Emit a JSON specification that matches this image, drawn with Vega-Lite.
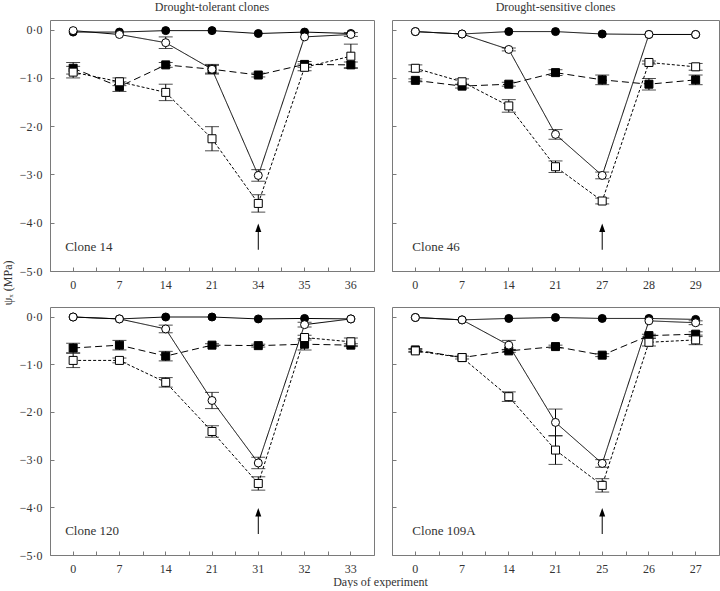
{
  "$schema": "https://vega.github.io/schema/vega-lite/v6.json",
  "padding": {"left": 0, "top": 0, "right": 0, "bottom": 0},
  "datasets": {
    "obs": [
      {"clone":"14","day":0,"series":"ctrl_sq","value":-0.80,"err":0.12},
      {"clone":"14","day":7,"series":"ctrl_sq","value":-1.18,"err":0.10},
      {"clone":"14","day":14,"series":"ctrl_sq","value":-0.73,"err":0.05},
      {"clone":"14","day":21,"series":"ctrl_sq","value":-0.82,"err":0.10},
      {"clone":"14","day":34,"series":"ctrl_sq","value":-0.94,"err":0.04},
      {"clone":"14","day":35,"series":"ctrl_sq","value":-0.72,"err":0.06},
      {"clone":"14","day":36,"series":"ctrl_sq","value":-0.73,"err":0.06},
      {"clone":"14","day":0,"series":"stress_sq","value":-0.88,"err":0.12},
      {"clone":"14","day":7,"series":"stress_sq","value":-1.08,"err":0.08},
      {"clone":"14","day":14,"series":"stress_sq","value":-1.30,"err":0.17},
      {"clone":"14","day":21,"series":"stress_sq","value":-2.26,"err":0.25},
      {"clone":"14","day":34,"series":"stress_sq","value":-3.60,"err":0.18},
      {"clone":"14","day":35,"series":"stress_sq","value":-0.78,"err":0.07},
      {"clone":"14","day":36,"series":"stress_sq","value":-0.55,"err":0.25},
      {"clone":"14","day":0,"series":"ctrl_ci","value":-0.05,"err":0},
      {"clone":"14","day":7,"series":"ctrl_ci","value":-0.05,"err":0},
      {"clone":"14","day":14,"series":"ctrl_ci","value":-0.02,"err":0},
      {"clone":"14","day":21,"series":"ctrl_ci","value":-0.02,"err":0},
      {"clone":"14","day":34,"series":"ctrl_ci","value":-0.08,"err":0},
      {"clone":"14","day":35,"series":"ctrl_ci","value":-0.05,"err":0},
      {"clone":"14","day":36,"series":"ctrl_ci","value":-0.08,"err":0},
      {"clone":"14","day":0,"series":"stress_ci","value":-0.02,"err":0},
      {"clone":"14","day":7,"series":"stress_ci","value":-0.10,"err":0},
      {"clone":"14","day":14,"series":"stress_ci","value":-0.27,"err":0.12},
      {"clone":"14","day":21,"series":"stress_ci","value":-0.82,"err":0.08},
      {"clone":"14","day":34,"series":"stress_ci","value":-3.02,"err":0.12},
      {"clone":"14","day":35,"series":"stress_ci","value":-0.15,"err":0},
      {"clone":"14","day":36,"series":"stress_ci","value":-0.10,"err":0.04},

      {"clone":"46","day":0,"series":"ctrl_sq","value":-1.05,"err":0.03},
      {"clone":"46","day":7,"series":"ctrl_sq","value":-1.17,"err":0.04},
      {"clone":"46","day":14,"series":"ctrl_sq","value":-1.13,"err":0.04},
      {"clone":"46","day":21,"series":"ctrl_sq","value":-0.89,"err":0.06},
      {"clone":"46","day":27,"series":"ctrl_sq","value":-1.04,"err":0.10},
      {"clone":"46","day":28,"series":"ctrl_sq","value":-1.13,"err":0.12},
      {"clone":"46","day":29,"series":"ctrl_sq","value":-1.04,"err":0.10},
      {"clone":"46","day":0,"series":"stress_sq","value":-0.80,"err":0.07},
      {"clone":"46","day":7,"series":"stress_sq","value":-1.08,"err":0.06},
      {"clone":"46","day":14,"series":"stress_sq","value":-1.58,"err":0.13},
      {"clone":"46","day":21,"series":"stress_sq","value":-2.84,"err":0.12},
      {"clone":"46","day":27,"series":"stress_sq","value":-3.55,"err":0.06},
      {"clone":"46","day":28,"series":"stress_sq","value":-0.68,"err":0.03},
      {"clone":"46","day":29,"series":"stress_sq","value":-0.77,"err":0.07},
      {"clone":"46","day":0,"series":"ctrl_ci","value":-0.04,"err":0},
      {"clone":"46","day":7,"series":"ctrl_ci","value":-0.09,"err":0},
      {"clone":"46","day":14,"series":"ctrl_ci","value":-0.04,"err":0},
      {"clone":"46","day":21,"series":"ctrl_ci","value":-0.04,"err":0},
      {"clone":"46","day":27,"series":"ctrl_ci","value":-0.09,"err":0},
      {"clone":"46","day":28,"series":"ctrl_ci","value":-0.10,"err":0},
      {"clone":"46","day":29,"series":"ctrl_ci","value":-0.10,"err":0},
      {"clone":"46","day":0,"series":"stress_ci","value":-0.04,"err":0},
      {"clone":"46","day":7,"series":"stress_ci","value":-0.09,"err":0},
      {"clone":"46","day":14,"series":"stress_ci","value":-0.41,"err":0.03},
      {"clone":"46","day":21,"series":"stress_ci","value":-2.17,"err":0.10},
      {"clone":"46","day":27,"series":"stress_ci","value":-3.02,"err":0.07},
      {"clone":"46","day":28,"series":"stress_ci","value":-0.10,"err":0},
      {"clone":"46","day":29,"series":"stress_ci","value":-0.10,"err":0},

      {"clone":"120","day":0,"series":"ctrl_sq","value":-0.66,"err":0.10},
      {"clone":"120","day":7,"series":"ctrl_sq","value":-0.60,"err":0.10},
      {"clone":"120","day":14,"series":"ctrl_sq","value":-0.83,"err":0.10},
      {"clone":"120","day":21,"series":"ctrl_sq","value":-0.60,"err":0.03},
      {"clone":"120","day":31,"series":"ctrl_sq","value":-0.61,"err":0.03},
      {"clone":"120","day":32,"series":"ctrl_sq","value":-0.58,"err":0.12},
      {"clone":"120","day":33,"series":"ctrl_sq","value":-0.60,"err":0.03},
      {"clone":"120","day":0,"series":"stress_sq","value":-0.92,"err":0.15},
      {"clone":"120","day":7,"series":"stress_sq","value":-0.92,"err":0.05},
      {"clone":"120","day":14,"series":"stress_sq","value":-1.38,"err":0.10},
      {"clone":"120","day":21,"series":"stress_sq","value":-2.41,"err":0.12},
      {"clone":"120","day":31,"series":"stress_sq","value":-3.50,"err":0.14},
      {"clone":"120","day":32,"series":"stress_sq","value":-0.44,"err":0.05},
      {"clone":"120","day":33,"series":"stress_sq","value":-0.53,"err":0.08},
      {"clone":"120","day":0,"series":"ctrl_ci","value":-0.01,"err":0},
      {"clone":"120","day":7,"series":"ctrl_ci","value":-0.05,"err":0},
      {"clone":"120","day":14,"series":"ctrl_ci","value":-0.01,"err":0},
      {"clone":"120","day":21,"series":"ctrl_ci","value":-0.01,"err":0},
      {"clone":"120","day":31,"series":"ctrl_ci","value":-0.05,"err":0},
      {"clone":"120","day":32,"series":"ctrl_ci","value":-0.04,"err":0},
      {"clone":"120","day":33,"series":"ctrl_ci","value":-0.05,"err":0},
      {"clone":"120","day":0,"series":"stress_ci","value":-0.01,"err":0},
      {"clone":"120","day":7,"series":"stress_ci","value":-0.05,"err":0},
      {"clone":"120","day":14,"series":"stress_ci","value":-0.26,"err":0.08},
      {"clone":"120","day":21,"series":"stress_ci","value":-1.76,"err":0.17},
      {"clone":"120","day":31,"series":"stress_ci","value":-3.07,"err":0.12},
      {"clone":"120","day":32,"series":"stress_ci","value":-0.17,"err":0.05},
      {"clone":"120","day":33,"series":"stress_ci","value":-0.05,"err":0},

      {"clone":"109A","day":0,"series":"ctrl_sq","value":-0.70,"err":0.03},
      {"clone":"109A","day":7,"series":"ctrl_sq","value":-0.86,"err":0},
      {"clone":"109A","day":14,"series":"ctrl_sq","value":-0.72,"err":0.03},
      {"clone":"109A","day":21,"series":"ctrl_sq","value":-0.63,"err":0.03},
      {"clone":"109A","day":25,"series":"ctrl_sq","value":-0.81,"err":0.03},
      {"clone":"109A","day":26,"series":"ctrl_sq","value":-0.40,"err":0.03},
      {"clone":"109A","day":27,"series":"ctrl_sq","value":-0.37,"err":0.05},
      {"clone":"109A","day":0,"series":"stress_sq","value":-0.72,"err":0.03},
      {"clone":"109A","day":7,"series":"stress_sq","value":-0.86,"err":0.03},
      {"clone":"109A","day":14,"series":"stress_sq","value":-1.68,"err":0.10},
      {"clone":"109A","day":21,"series":"stress_sq","value":-2.80,"err":0.30},
      {"clone":"109A","day":25,"series":"stress_sq","value":-3.54,"err":0.14},
      {"clone":"109A","day":26,"series":"stress_sq","value":-0.54,"err":0.08},
      {"clone":"109A","day":27,"series":"stress_sq","value":-0.49,"err":0.10},
      {"clone":"109A","day":0,"series":"ctrl_ci","value":-0.02,"err":0},
      {"clone":"109A","day":7,"series":"ctrl_ci","value":-0.07,"err":0},
      {"clone":"109A","day":14,"series":"ctrl_ci","value":-0.04,"err":0},
      {"clone":"109A","day":21,"series":"ctrl_ci","value":-0.02,"err":0},
      {"clone":"109A","day":25,"series":"ctrl_ci","value":-0.04,"err":0},
      {"clone":"109A","day":26,"series":"ctrl_ci","value":-0.04,"err":0},
      {"clone":"109A","day":27,"series":"ctrl_ci","value":-0.06,"err":0},
      {"clone":"109A","day":0,"series":"stress_ci","value":-0.02,"err":0},
      {"clone":"109A","day":7,"series":"stress_ci","value":-0.07,"err":0},
      {"clone":"109A","day":14,"series":"stress_ci","value":-0.60,"err":0.10},
      {"clone":"109A","day":21,"series":"stress_ci","value":-2.22,"err":0.28},
      {"clone":"109A","day":25,"series":"stress_ci","value":-3.08,"err":0.08},
      {"clone":"109A","day":26,"series":"stress_ci","value":-0.09,"err":0},
      {"clone":"109A","day":27,"series":"stress_ci","value":-0.13,"err":0.04}
    ],
    "arrows": [
      {"clone":"14","day":34},
      {"clone":"46","day":27},
      {"clone":"120","day":31},
      {"clone":"109A","day":25}
    ],
    "labels": [
      {"clone":"14","day":0,"label":"Clone 14"},
      {"clone":"46","day":0,"label":"Clone 46"},
      {"clone":"120","day":0,"label":"Clone 120"},
      {"clone":"109A","day":0,"label":"Clone 109A"}
    ]
  },
  "columns": 2,
  "spacing": {"row": 36, "column": 18},
  "bounds": "flush",
  "concat": [
    {
      "width": 324, "height": 251,
      "title": {"text": "Drought-tolerant clones"},
      "resolve": {"axis": {"x": "independent", "y": "independent"}},
      "layer": [
        {"data": {"name": "obs"}, "transform": [{"filter": "datum.clone === '14' && datum.err > 0"}],
         "mark": {"type": "errorbar", "ticks": {"size": 14, "color": "black", "thickness": 1}, "rule": {"color": "black", "strokeWidth": 1}},
         "encoding": {
           "x": {"field": "day", "type": "ordinal", "sort": "ascending", "scale": {"type": "band", "paddingInner": 0, "paddingOuter": 0}, "axis": null},
           "y": {"field": "value", "type": "quantitative", "scale": {"domain": [-5, 0.2], "nice": false, "zero": false}, "axis": null},
           "yError": {"field": "err"}}},
        {"data": {"name": "obs"}, "transform": [{"filter": "datum.clone === '14'"}],
         "mark": {"type": "line", "color": "black", "strokeWidth": 1},
         "encoding": {
           "x": {"field": "day", "type": "ordinal", "sort": "ascending", "scale": {"type": "band", "paddingInner": 0, "paddingOuter": 0}, "axis": {"title": null, "orient": "bottom", "labelAngle": 0}},
           "y": {"field": "value", "type": "quantitative", "scale": {"domain": [-5, 0.2], "nice": false, "zero": false},
                 "axis": {"orient": "left", "values": [-5, -4, -3, -2, -1, 0], "labelExpr": "replace(format(datum.value, '.1f'), '.', '·')", "title": "ψₓ (MPa)", "titleX": -36, "titleY": 240, "titleAlign": "right"}},
           "detail": {"field": "series"},
           "strokeDash": {"field": "series", "type": "nominal", "legend": null, "scale": {"domain": ["ctrl_sq", "stress_sq", "ctrl_ci", "stress_ci"], "range": [[7, 4], [3, 2], [1, 0], [1, 0]]}}}},
        {"data": {"name": "obs"}, "transform": [{"filter": "datum.clone === '14'"}],
         "mark": {"type": "point", "filled": true, "stroke": "black", "strokeWidth": 1, "size": 64, "opacity": 1},
         "encoding": {
           "x": {"field": "day", "type": "ordinal", "sort": "ascending", "scale": {"type": "band", "paddingInner": 0, "paddingOuter": 0}, "axis": null},
           "y": {"field": "value", "type": "quantitative", "scale": {"domain": [-5, 0.2], "nice": false, "zero": false}, "axis": null},
           "shape": {"field": "series", "type": "nominal", "legend": null, "scale": {"domain": ["ctrl_sq", "stress_sq", "ctrl_ci", "stress_ci"], "range": ["square", "square", "circle", "circle"]}},
           "fill": {"field": "series", "type": "nominal", "legend": null, "scale": {"domain": ["ctrl_sq", "stress_sq", "ctrl_ci", "stress_ci"], "range": ["black", "white", "black", "white"]}}}},
        {"data": {"name": "arrows"}, "transform": [{"filter": "datum.clone === '14'"}],
         "mark": {"type": "rule", "color": "black", "strokeWidth": 1},
         "encoding": {
           "x": {"field": "day", "type": "ordinal", "sort": "ascending", "scale": {"type": "band", "paddingInner": 0, "paddingOuter": 0}, "axis": null},
           "y": {"datum": -4.56, "type": "quantitative", "scale": {"domain": [-5, 0.2], "nice": false, "zero": false}, "axis": null},
           "y2": {"datum": -4.14}}},
        {"data": {"name": "arrows"}, "transform": [{"filter": "datum.clone === '14'"}],
         "mark": {"type": "point", "shape": "M0,-1L0.5,0.4L-0.5,0.4Z", "filled": true, "color": "black", "size": 144, "opacity": 1},
         "encoding": {
           "x": {"field": "day", "type": "ordinal", "sort": "ascending", "scale": {"type": "band", "paddingInner": 0, "paddingOuter": 0}, "axis": null},
           "y": {"datum": -4.14, "type": "quantitative", "scale": {"domain": [-5, 0.2], "nice": false, "zero": false}, "axis": null}}},
        {"data": {"name": "labels"}, "transform": [{"filter": "datum.clone === '14'"}],
         "mark": {"type": "text", "align": "left", "baseline": "middle", "dx": -8, "fontSize": 13, "color": "#333333"},
         "encoding": {
           "x": {"field": "day", "type": "ordinal", "sort": "ascending", "scale": {"type": "band", "paddingInner": 0, "paddingOuter": 0}, "axis": {"title": null, "orient": "bottom", "tickBand": "extent", "labels": false}},
           "y": {"datum": -4.5, "type": "quantitative", "scale": {"domain": [-5, 0.2], "nice": false, "zero": false}, "axis": null},
           "text": {"field": "label"}}}
      ]
    },
    {
      "width": 327, "height": 251,
      "title": {"text": "Drought-sensitive clones"},
      "resolve": {"axis": {"x": "independent", "y": "independent"}},
      "layer": [
        {"data": {"name": "obs"}, "transform": [{"filter": "datum.clone === '46' && datum.err > 0"}],
         "mark": {"type": "errorbar", "ticks": {"size": 14, "color": "black", "thickness": 1}, "rule": {"color": "black", "strokeWidth": 1}},
         "encoding": {
           "x": {"field": "day", "type": "ordinal", "sort": "ascending", "scale": {"type": "band", "paddingInner": 0, "paddingOuter": 0}, "axis": null},
           "y": {"field": "value", "type": "quantitative", "scale": {"domain": [-5, 0.2], "nice": false, "zero": false}, "axis": null},
           "yError": {"field": "err"}}},
        {"data": {"name": "obs"}, "transform": [{"filter": "datum.clone === '46'"}],
         "mark": {"type": "line", "color": "black", "strokeWidth": 1},
         "encoding": {
           "x": {"field": "day", "type": "ordinal", "sort": "ascending", "scale": {"type": "band", "paddingInner": 0, "paddingOuter": 0}, "axis": {"title": null, "orient": "bottom", "labelAngle": 0}},
           "y": {"field": "value", "type": "quantitative", "scale": {"domain": [-5, 0.2], "nice": false, "zero": false},
                 "axis": {"orient": "left", "values": [-5, -4, -3, -2, -1, 0], "labels": false, "title": null}},
           "detail": {"field": "series"},
           "strokeDash": {"field": "series", "type": "nominal", "legend": null, "scale": {"domain": ["ctrl_sq", "stress_sq", "ctrl_ci", "stress_ci"], "range": [[7, 4], [3, 2], [1, 0], [1, 0]]}}}},
        {"data": {"name": "obs"}, "transform": [{"filter": "datum.clone === '46'"}],
         "mark": {"type": "point", "filled": true, "stroke": "black", "strokeWidth": 1, "size": 64, "opacity": 1},
         "encoding": {
           "x": {"field": "day", "type": "ordinal", "sort": "ascending", "scale": {"type": "band", "paddingInner": 0, "paddingOuter": 0}, "axis": null},
           "y": {"field": "value", "type": "quantitative", "scale": {"domain": [-5, 0.2], "nice": false, "zero": false}, "axis": null},
           "shape": {"field": "series", "type": "nominal", "legend": null, "scale": {"domain": ["ctrl_sq", "stress_sq", "ctrl_ci", "stress_ci"], "range": ["square", "square", "circle", "circle"]}},
           "fill": {"field": "series", "type": "nominal", "legend": null, "scale": {"domain": ["ctrl_sq", "stress_sq", "ctrl_ci", "stress_ci"], "range": ["black", "white", "black", "white"]}}}},
        {"data": {"name": "arrows"}, "transform": [{"filter": "datum.clone === '46'"}],
         "mark": {"type": "rule", "color": "black", "strokeWidth": 1},
         "encoding": {
           "x": {"field": "day", "type": "ordinal", "sort": "ascending", "scale": {"type": "band", "paddingInner": 0, "paddingOuter": 0}, "axis": null},
           "y": {"datum": -4.56, "type": "quantitative", "scale": {"domain": [-5, 0.2], "nice": false, "zero": false}, "axis": null},
           "y2": {"datum": -4.14}}},
        {"data": {"name": "arrows"}, "transform": [{"filter": "datum.clone === '46'"}],
         "mark": {"type": "point", "shape": "M0,-1L0.5,0.4L-0.5,0.4Z", "filled": true, "color": "black", "size": 144, "opacity": 1},
         "encoding": {
           "x": {"field": "day", "type": "ordinal", "sort": "ascending", "scale": {"type": "band", "paddingInner": 0, "paddingOuter": 0}, "axis": null},
           "y": {"datum": -4.14, "type": "quantitative", "scale": {"domain": [-5, 0.2], "nice": false, "zero": false}, "axis": null}}},
        {"data": {"name": "labels"}, "transform": [{"filter": "datum.clone === '46'"}],
         "mark": {"type": "text", "align": "left", "baseline": "middle", "dx": -3, "fontSize": 13, "color": "#333333"},
         "encoding": {
           "x": {"field": "day", "type": "ordinal", "sort": "ascending", "scale": {"type": "band", "paddingInner": 0, "paddingOuter": 0}, "axis": {"title": null, "orient": "bottom", "tickBand": "extent", "labels": false}},
           "y": {"datum": -4.5, "type": "quantitative", "scale": {"domain": [-5, 0.2], "nice": false, "zero": false}, "axis": null},
           "text": {"field": "label"}}}
      ]
    },
    {
      "width": 324, "height": 248,
      "resolve": {"axis": {"x": "independent", "y": "independent"}},
      "layer": [
        {"data": {"name": "obs"}, "transform": [{"filter": "datum.clone === '120' && datum.err > 0"}],
         "mark": {"type": "errorbar", "ticks": {"size": 14, "color": "black", "thickness": 1}, "rule": {"color": "black", "strokeWidth": 1}},
         "encoding": {
           "x": {"field": "day", "type": "ordinal", "sort": "ascending", "scale": {"type": "band", "paddingInner": 0, "paddingOuter": 0}, "axis": null},
           "y": {"field": "value", "type": "quantitative", "scale": {"domain": [-5, 0.2], "nice": false, "zero": false}, "axis": null},
           "yError": {"field": "err"}}},
        {"data": {"name": "obs"}, "transform": [{"filter": "datum.clone === '120'"}],
         "mark": {"type": "line", "color": "black", "strokeWidth": 1},
         "encoding": {
           "x": {"field": "day", "type": "ordinal", "sort": "ascending", "scale": {"type": "band", "paddingInner": 0, "paddingOuter": 0},
                 "axis": {"title": "Days of experiment", "orient": "bottom", "labelAngle": 0, "titleX": 330, "titleY": 21, "titleAlign": "center", "titleBaseline": "top"}},
           "y": {"field": "value", "type": "quantitative", "scale": {"domain": [-5, 0.2], "nice": false, "zero": false},
                 "axis": {"orient": "left", "values": [-5, -4, -3, -2, -1, 0], "labelExpr": "replace(format(datum.value, '.1f'), '.', '·')", "title": null}},
           "detail": {"field": "series"},
           "strokeDash": {"field": "series", "type": "nominal", "legend": null, "scale": {"domain": ["ctrl_sq", "stress_sq", "ctrl_ci", "stress_ci"], "range": [[7, 4], [3, 2], [1, 0], [1, 0]]}}}},
        {"data": {"name": "obs"}, "transform": [{"filter": "datum.clone === '120'"}],
         "mark": {"type": "point", "filled": true, "stroke": "black", "strokeWidth": 1, "size": 64, "opacity": 1},
         "encoding": {
           "x": {"field": "day", "type": "ordinal", "sort": "ascending", "scale": {"type": "band", "paddingInner": 0, "paddingOuter": 0}, "axis": null},
           "y": {"field": "value", "type": "quantitative", "scale": {"domain": [-5, 0.2], "nice": false, "zero": false}, "axis": null},
           "shape": {"field": "series", "type": "nominal", "legend": null, "scale": {"domain": ["ctrl_sq", "stress_sq", "ctrl_ci", "stress_ci"], "range": ["square", "square", "circle", "circle"]}},
           "fill": {"field": "series", "type": "nominal", "legend": null, "scale": {"domain": ["ctrl_sq", "stress_sq", "ctrl_ci", "stress_ci"], "range": ["black", "white", "black", "white"]}}}},
        {"data": {"name": "arrows"}, "transform": [{"filter": "datum.clone === '120'"}],
         "mark": {"type": "rule", "color": "black", "strokeWidth": 1},
         "encoding": {
           "x": {"field": "day", "type": "ordinal", "sort": "ascending", "scale": {"type": "band", "paddingInner": 0, "paddingOuter": 0}, "axis": null},
           "y": {"datum": -4.56, "type": "quantitative", "scale": {"domain": [-5, 0.2], "nice": false, "zero": false}, "axis": null},
           "y2": {"datum": -4.14}}},
        {"data": {"name": "arrows"}, "transform": [{"filter": "datum.clone === '120'"}],
         "mark": {"type": "point", "shape": "M0,-1L0.5,0.4L-0.5,0.4Z", "filled": true, "color": "black", "size": 144, "opacity": 1},
         "encoding": {
           "x": {"field": "day", "type": "ordinal", "sort": "ascending", "scale": {"type": "band", "paddingInner": 0, "paddingOuter": 0}, "axis": null},
           "y": {"datum": -4.14, "type": "quantitative", "scale": {"domain": [-5, 0.2], "nice": false, "zero": false}, "axis": null}}},
        {"data": {"name": "labels"}, "transform": [{"filter": "datum.clone === '120'"}],
         "mark": {"type": "text", "align": "left", "baseline": "middle", "dx": -8, "fontSize": 13, "color": "#333333"},
         "encoding": {
           "x": {"field": "day", "type": "ordinal", "sort": "ascending", "scale": {"type": "band", "paddingInner": 0, "paddingOuter": 0}, "axis": {"title": null, "orient": "bottom", "tickBand": "extent", "labels": false}},
           "y": {"datum": -4.5, "type": "quantitative", "scale": {"domain": [-5, 0.2], "nice": false, "zero": false}, "axis": null},
           "text": {"field": "label"}}}
      ]
    },
    {
      "width": 327, "height": 248,
      "resolve": {"axis": {"x": "independent", "y": "independent"}},
      "layer": [
        {"data": {"name": "obs"}, "transform": [{"filter": "datum.clone === '109A' && datum.err > 0"}],
         "mark": {"type": "errorbar", "ticks": {"size": 14, "color": "black", "thickness": 1}, "rule": {"color": "black", "strokeWidth": 1}},
         "encoding": {
           "x": {"field": "day", "type": "ordinal", "sort": "ascending", "scale": {"type": "band", "paddingInner": 0, "paddingOuter": 0}, "axis": null},
           "y": {"field": "value", "type": "quantitative", "scale": {"domain": [-5, 0.2], "nice": false, "zero": false}, "axis": null},
           "yError": {"field": "err"}}},
        {"data": {"name": "obs"}, "transform": [{"filter": "datum.clone === '109A'"}],
         "mark": {"type": "line", "color": "black", "strokeWidth": 1},
         "encoding": {
           "x": {"field": "day", "type": "ordinal", "sort": "ascending", "scale": {"type": "band", "paddingInner": 0, "paddingOuter": 0}, "axis": {"title": null, "orient": "bottom", "labelAngle": 0}},
           "y": {"field": "value", "type": "quantitative", "scale": {"domain": [-5, 0.2], "nice": false, "zero": false},
                 "axis": {"orient": "left", "values": [-5, -4, -3, -2, -1, 0], "labels": false, "title": null}},
           "detail": {"field": "series"},
           "strokeDash": {"field": "series", "type": "nominal", "legend": null, "scale": {"domain": ["ctrl_sq", "stress_sq", "ctrl_ci", "stress_ci"], "range": [[7, 4], [3, 2], [1, 0], [1, 0]]}}}},
        {"data": {"name": "obs"}, "transform": [{"filter": "datum.clone === '109A'"}],
         "mark": {"type": "point", "filled": true, "stroke": "black", "strokeWidth": 1, "size": 64, "opacity": 1},
         "encoding": {
           "x": {"field": "day", "type": "ordinal", "sort": "ascending", "scale": {"type": "band", "paddingInner": 0, "paddingOuter": 0}, "axis": null},
           "y": {"field": "value", "type": "quantitative", "scale": {"domain": [-5, 0.2], "nice": false, "zero": false}, "axis": null},
           "shape": {"field": "series", "type": "nominal", "legend": null, "scale": {"domain": ["ctrl_sq", "stress_sq", "ctrl_ci", "stress_ci"], "range": ["square", "square", "circle", "circle"]}},
           "fill": {"field": "series", "type": "nominal", "legend": null, "scale": {"domain": ["ctrl_sq", "stress_sq", "ctrl_ci", "stress_ci"], "range": ["black", "white", "black", "white"]}}}},
        {"data": {"name": "arrows"}, "transform": [{"filter": "datum.clone === '109A'"}],
         "mark": {"type": "rule", "color": "black", "strokeWidth": 1},
         "encoding": {
           "x": {"field": "day", "type": "ordinal", "sort": "ascending", "scale": {"type": "band", "paddingInner": 0, "paddingOuter": 0}, "axis": null},
           "y": {"datum": -4.56, "type": "quantitative", "scale": {"domain": [-5, 0.2], "nice": false, "zero": false}, "axis": null},
           "y2": {"datum": -4.14}}},
        {"data": {"name": "arrows"}, "transform": [{"filter": "datum.clone === '109A'"}],
         "mark": {"type": "point", "shape": "M0,-1L0.5,0.4L-0.5,0.4Z", "filled": true, "color": "black", "size": 144, "opacity": 1},
         "encoding": {
           "x": {"field": "day", "type": "ordinal", "sort": "ascending", "scale": {"type": "band", "paddingInner": 0, "paddingOuter": 0}, "axis": null},
           "y": {"datum": -4.14, "type": "quantitative", "scale": {"domain": [-5, 0.2], "nice": false, "zero": false}, "axis": null}}},
        {"data": {"name": "labels"}, "transform": [{"filter": "datum.clone === '109A'"}],
         "mark": {"type": "text", "align": "left", "baseline": "middle", "dx": -3, "fontSize": 13, "color": "#333333"},
         "encoding": {
           "x": {"field": "day", "type": "ordinal", "sort": "ascending", "scale": {"type": "band", "paddingInner": 0, "paddingOuter": 0}, "axis": {"title": null, "orient": "bottom", "tickBand": "extent", "labels": false}},
           "y": {"datum": -4.5, "type": "quantitative", "scale": {"domain": [-5, 0.2], "nice": false, "zero": false}, "axis": null},
           "text": {"field": "label"}}}
      ]
    }
  ],
  "config": {
    "font": "Liberation Serif",
    "view": {"stroke": "#7a7a7a", "strokeWidth": 1},
    "axis": {"domain": false, "grid": false, "tickColor": "#7a7a7a", "tickSize": -4, "tickWidth": 1,
             "labelFont": "Liberation Serif", "labelFontSize": 12, "labelColor": "#333333", "labelPadding": 12,
             "titleFont": "Liberation Serif", "titleFontSize": 12, "titleFontWeight": "normal", "titleColor": "#333333"},
    "title": {"font": "Liberation Serif", "fontSize": 12, "fontWeight": "normal", "color": "#333333", "offset": 6}
  }
}
